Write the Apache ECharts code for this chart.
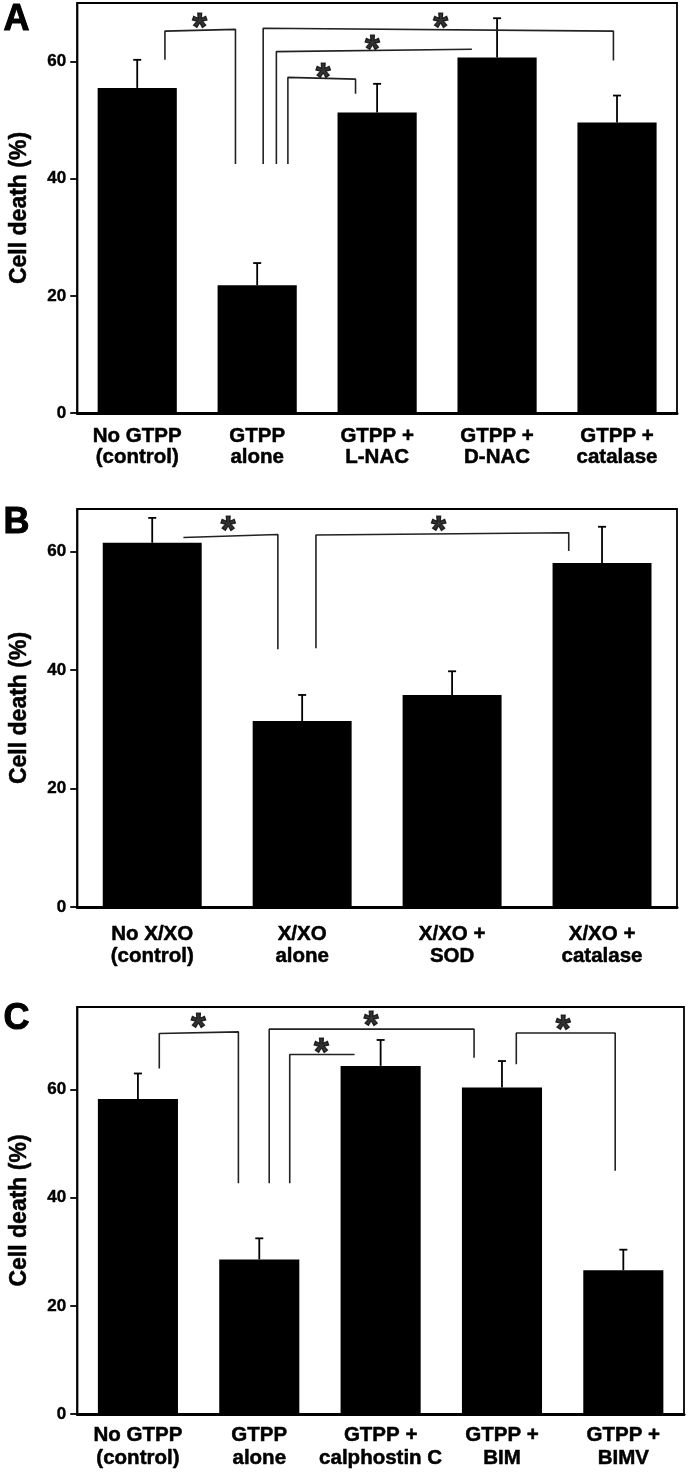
<!DOCTYPE html>
<html><head><meta charset="utf-8">
<script src="https://cdn.jsdelivr.net/npm/echarts@6/dist/echarts.min.js"></script>
<style>html,body{margin:0;padding:0;background:#fff}#c{width:693px;height:1472px}</style>
</head><body><div id="c"></div>
<script>
// ---------- Panel A ----------
const aCategories = ['No GTPP\n(control)', 'GTPP\nalone', 'GTPP +\nL-NAC', 'GTPP +\nD-NAC', 'GTPP +\ncatalase'];
const aValues = [55.5, 21.8, 51.3, 60.7, 49.6];
const aErrors = [4.8, 3.8, 4.9, 6.7, 4.6];
const aBrackets = [
  [[0.231, 60.3], [0.231, 65.2], [0.819, 65.5], [0.819, 42.5]],
  [[1.05, 42.5], [1.05, 65.7], [3.97, 65.2], [3.97, 60.2]],
  [[1.16, 42.5], [1.16, 61.7], [2.79, 62.1]],
  [[1.256, 42.5], [1.256, 57.3], [1.82, 57.0], [1.82, 54.5]]
];
const aStars = [[0.52, 66.8], [2.53, 66.8], [1.96, 63.0], [1.55, 58.3]];

// ---------- Panel B ----------
const bCategories = ['No X/XO\n(control)', 'X/XO\nalone', 'X/XO +\nSOD', 'X/XO +\ncatalase'];
const bValues = [61.5, 31.4, 35.8, 58.1];
const bErrors = [4.2, 4.4, 4.0, 6.1];
const bBrackets = [
  [[0.208, 62.4], [0.838, 62.9], [0.838, 43.5]],
  [[1.092, 43.7], [1.092, 62.8], [2.778, 63.2], [2.778, 60.1]]
];
const bStars = [[0.506, 64.5], [1.91, 64.5]];

// ---------- Panel C ----------
const cCategories = ['No GTPP\n(control)', 'GTPP\nalone', 'GTPP +\ncalphostin C', 'GTPP +\nBIM', 'GTPP +\nBIMV'];
const cValues = [58.3, 28.6, 64.4, 60.4, 26.6];
const cErrors = [4.7, 3.9, 4.8, 4.9, 3.8];
const cBrackets = [
  [[0.176, 63.9], [0.176, 70.4], [0.828, 70.7], [0.828, 42.7]],
  [[1.082, 42.7], [1.082, 71.2], [2.77, 71.2], [2.77, 65.9]],
  [[1.251, 42.7], [1.251, 66.5], [1.785, 66.5]],
  [[3.118, 64.7], [3.118, 70.5], [3.933, 70.5], [3.933, 45.0]]
];
const cStars = [[0.499, 72.7], [1.922, 73.0], [1.511, 68.0], [3.504, 72.3]];

const yTickValues = [0, 20, 40, 60];
const yAxisTitle = 'Cell death (%)';
const panelLetters = ['A', 'B', 'C'];

const FONT = '"Liberation Sans", Arial, Helvetica, sans-serif';

const panels = [
  { cats: aCategories, vals: aValues, errs: aErrors, brackets: aBrackets, stars: aStars, yMax: 70,
    grid: { left: 75, top: 3, width: 602, height: 410 }, labelMargin: 13, lineHeight: 21, letterTop: 2 },
  { cats: bCategories, vals: bValues, errs: bErrors, brackets: bBrackets, stars: bStars, yMax: 67.2,
    grid: { left: 73, top: 509, width: 604, height: 398 }, labelMargin: 16, lineHeight: 22, letterTop: 505 },
  { cats: cCategories, vals: cValues, errs: cErrors, brackets: cBrackets, stars: cStars, yMax: 75.3,
    grid: { left: 75, top: 1007, width: 609, height: 407 }, labelMargin: 10, lineHeight: 23, letterTop: 1001 }
];

const grids = [], xAxes = [], yAxes = [], series = [], graphics = [];

function errorRender(params, api) {
  const x = api.value(0), v = api.value(1), e = api.value(2);
  const p0 = api.coord([x, v]);
  const p1 = api.coord([x, v + e]);
  const style = { stroke: '#000', lineWidth: 1.8 };
  return {
    type: 'group',
    children: [
      { type: 'line', shape: { x1: p0[0], y1: p0[1], x2: p1[0], y2: p1[1] }, style },
      { type: 'line', shape: { x1: p1[0] - 4, y1: p1[1], x2: p1[0] + 4, y2: p1[1] }, style }
    ]
  };
}

panels.forEach((p, i) => {
  grids.push(Object.assign({ show: true, borderColor: '#000', borderWidth: 1.8, backgroundColor: 'transparent' }, p.grid));
  xAxes.push({
    type: 'category', gridIndex: i, data: p.cats, position: 'bottom',
    axisLine: { onZero: false, lineStyle: { color: '#000', width: 3 } },
    axisTick: { alignWithLabel: true, length: 7, lineStyle: { color: '#000', width: 1.8 } },
    axisLabel: { interval: 0, fontSize: 20.5, fontWeight: 'bold', color: '#000', fontFamily: FONT,
                 textBorderColor: '#000', textBorderWidth: 0.5,
                 lineHeight: p.lineHeight, margin: p.labelMargin },
    splitLine: { show: false }
  });
  xAxes.push({ type: 'value', gridIndex: i, min: -0.5, max: p.cats.length - 0.5, show: false,
               axisLine: { onZero: false } });
  yAxes.push({
    type: 'value', gridIndex: i, min: 0, max: p.yMax, interval: 20, position: 'left',
    name: yAxisTitle, nameLocation: 'middle', nameGap: 46,
    nameTextStyle: { fontSize: 23, fontWeight: 'bold', color: '#000', fontFamily: FONT,
                     textBorderColor: '#000', textBorderWidth: 0.5 },
    axisLine: { show: true, onZero: false, lineStyle: { color: '#000', width: 2 } },
    axisTick: { show: true, length: 7, customValues: yTickValues, lineStyle: { color: '#000', width: 1.8 } },
    axisLabel: { customValues: yTickValues, fontSize: 17, fontWeight: 'bold', color: '#000', fontFamily: FONT,
                 textBorderColor: '#000', textBorderWidth: 0.4, margin: 11 },
    splitLine: { show: false }
  });
  series.push({
    type: 'bar', xAxisIndex: 2 * i, yAxisIndex: i, data: p.vals,
    barCategoryGap: '34%', itemStyle: { color: '#000' }, silent: true
  });
  series.push({
    type: 'custom', xAxisIndex: 2 * i, yAxisIndex: i, z: 3,
    data: p.vals.map((v, k) => [k, v, p.errs[k]]), renderItem: errorRender, silent: true
  });
  p.brackets.forEach(br => {
    series.push({
      type: 'line', xAxisIndex: 2 * i + 1, yAxisIndex: i, data: br, symbol: 'none', z: 4, silent: true,
      lineStyle: { color: '#222', width: 1.6 }
    });
  });
  series.push({
    type: 'scatter', xAxisIndex: 2 * i + 1, yAxisIndex: i, data: p.stars, symbolSize: 1, z: 5, silent: true,
    itemStyle: { color: 'transparent' },
    label: { show: true, position: 'inside', formatter: '*', fontSize: 38, fontWeight: 'bold',
             color: '#000', fontFamily: FONT, offset: [0, 8], textBorderColor: '#000', textBorderWidth: 1.2 }
  });
  graphics.push({
    type: 'text', left: 3, top: p.letterTop,
    style: { text: panelLetters[i], fontSize: 36, fontWeight: 'bold', fontFamily: FONT, fill: '#000',
             stroke: '#000', lineWidth: 1 }
  });
});

const chart = echarts.init(document.getElementById('c'), null, { renderer: 'canvas' });
chart.setOption({
  animation: false,
  backgroundColor: '#fff',
  textStyle: { fontFamily: FONT },
  grid: grids, xAxis: xAxes, yAxis: yAxes, series: series, graphic: graphics
});
</script></body></html>
